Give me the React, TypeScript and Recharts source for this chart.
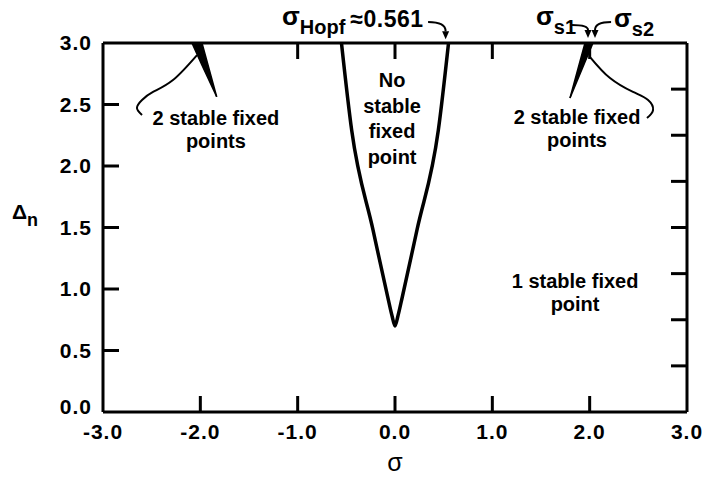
import React from 'react';
import { ComposedChart, Line, Area, XAxis, YAxis, ReferenceDot, ReferenceLine } from 'recharts';

const FONT = "'Liberation Sans', Arial, Helvetica, sans-serif";

// Axis ticks
const xTicks = [-3, -2, -1, 0, 1, 2, 3];
const innerXTicks = [-2, -1, 0, 1, 2];
const yTicks = [0, 0.5, 1, 1.5, 2, 2.5, 3];
const innerYTicks = [0.5, 1, 1.5, 2, 2.5];
// right-hand frame ticks: eighths of the Delta_n range
const rightTickEighths = [1, 2, 3, 4, 5, 6, 7];
const Y_MAX = 3;

// Hopf boundary (sigma, Delta_n)
const hopfSigma = [-0.55, -0.445, -0.226, -0.075, -0.03, 0, 0.03, 0.075, 0.226, 0.445, 0.55];
const hopfDelta = [3.0, 2.29, 1.48, 0.935, 0.78, 0.7, 0.78, 0.935, 1.48, 2.29, 3.0];

// Saddle-node wedges (sigma_s1 .. sigma_s2 region)
const wedgeLeftSigma = [-2.086, -1.983, -1.832];
const wedgeLeftLow = [3.0, 2.82, 2.563];
const wedgeLeftHigh = [3.0, 3.0, 2.563];
const wedgeRightSigma = [1.798, 1.952, 2.034];
const wedgeRightLow = [2.553, 2.845, 3.0];
const wedgeRightHigh = [2.553, 3.0, 3.0];

// Bracket leader curves
const bracketLeftSigma = [-2.034, -2.281, -2.486, -2.599, -2.651, -2.599];
const bracketLeftDelta = [2.902, 2.699, 2.602, 2.537, 2.472, 2.415];
const bracketRightSigma = [2.004, 2.209, 2.445, 2.6, 2.651, 2.589];
const bracketRightDelta = [2.886, 2.715, 2.602, 2.537, 2.455, 2.39];

const zip = (xs: number[], ys: number[]) => xs.map((x, i) => ({ x, y: ys[i] }));
const zipRange = (xs: number[], lo: number[], hi: number[]) => xs.map((x, i) => ({ x, lo: lo[i], hi: hi[i] }));

const hopfData = zip(hopfSigma, hopfDelta);
const wedgeLeftData = zipRange(wedgeLeftSigma, wedgeLeftLow, wedgeLeftHigh);
const wedgeRightData = zipRange(wedgeRightSigma, wedgeRightLow, wedgeRightHigh);
const bracketLeftData = zip(bracketLeftSigma, bracketLeftDelta);
const bracketRightData = zip(bracketRightSigma, bracketRightDelta);

const textStyle = { fontFamily: FONT, fontWeight: 'bold' as const, fill: '#000' };
const TICK_LEN = 16;
const TICK_W = 3;
const TICK_COLOR = '#000';
const BOTTOM_MARGIN = 12;
const LEFT_MARGIN = 11;

const makeTextShape = (lines: string[], lineHeight: number) => (p: any) => (
  <text x={p.cx} y={p.cy} textAnchor="middle" fontSize={20} {...textStyle}>
    {lines.map((l, i) => (
      <tspan key={i} x={p.cx} dy={i === 0 ? 0 : lineHeight}>{l}</tspan>
    ))}
  </text>
);

const sigmaLabelShape = (sub: string, rest: string) => (p: any) => (
  <text x={p.cx} y={p.cy} textAnchor="start" fontSize={26} {...textStyle}>
    <tspan>σ</tspan>
    <tspan fontSize={20} dy={9}>{sub}</tspan>
    {rest ? <tspan fontSize={23} dx={5} dy={-7} letterSpacing={0.5}>{rest}</tspan> : null}
  </text>
);

const arrowShape = (p: any) => {
  const { x1, y1, x2, y2 } = p;
  const cx = x2;
  const cy = y1;
  const ang = Math.atan2(y2 - cy, x2 - cx);
  const L = 8;
  const W = 3.5;
  const bx = x2 - L * Math.cos(ang);
  const by = y2 - L * Math.sin(ang);
  const px = -Math.sin(ang) * W;
  const py = Math.cos(ang) * W;
  return (
    <g>
      <path d={`M${x1},${y1} Q${cx},${cy} ${bx},${by}`} fill="none" stroke="#000" strokeWidth={2} />
      <polygon points={`${x2},${y2} ${bx + px},${by + py} ${bx - px},${by - py}`} fill="#000" />
    </g>
  );
};

const leftTickShape = (p: any) => {
  const x = Math.min(p.x1, p.x2);
  return (
    <g>
      <line x1={x} y1={p.y1} x2={x + TICK_LEN} y2={p.y1} stroke={TICK_COLOR} strokeWidth={TICK_W} />
    </g>
  );
};
const rightTickShape = (p: any) => {
  const x = Math.max(p.x1, p.x2);
  return (
    <g>
      <line x1={x} y1={p.y1} x2={x - TICK_LEN} y2={p.y1} stroke={TICK_COLOR} strokeWidth={TICK_W} />
    </g>
  );
};
const bottomTopTickShape = (p: any) => {
  const yb = Math.max(p.y1, p.y2);
  const yt = Math.min(p.y1, p.y2);
  return (
    <g>
      <line x1={p.x1} y1={yb} x2={p.x1} y2={yb - TICK_LEN} stroke={TICK_COLOR} strokeWidth={TICK_W} />
      <line x1={p.x1} y1={yt} x2={p.x1} y2={yt + TICK_LEN} stroke={TICK_COLOR} strokeWidth={TICK_W} />
    </g>
  );
};

const LeftTick = (p: any) => {
  const v = p.payload.value as number;
  return (
    <text x={p.x} y={p.y + (v === 0 ? -5 : 0)} dy={7} textAnchor="end" fontSize={21} letterSpacing={1} {...textStyle}>
      {v.toFixed(1)}
    </text>
  );
};

const BottomTick = (p: any) => {
  const v = p.payload.value as number;
  return (
    <text x={p.x} y={p.y} dy={15} textAnchor="middle" fontSize={21} letterSpacing={1} {...textStyle}>
      {v.toFixed(1)}
    </text>
  );
};

const axisLine = { stroke: '#000', strokeWidth: 3 };

export default function App() {
  return (
    <div style={{ position: 'absolute', left: 0, top: 0, background: '#fff' }}>
      <ComposedChart width={702} height={477} margin={{ top: 0, right: 0, bottom: 0, left: 0 }}>
        <XAxis
          xAxisId={0}
          dataKey="x"
          type="number"
          domain={[-3, 3]}
          ticks={xTicks}
          orientation="bottom"
          height={65}
          axisLine={axisLine}
          tickLine={false}
          tickSize={0}
          tickMargin={BOTTOM_MARGIN}
          tick={<BottomTick />}
          interval={0}
          label={{
            content: (p: any) => {
              const vb = p.viewBox;
              return (
                <text x={vb.x + vb.width / 2} y={vb.y + vb.height - 6} textAnchor="middle" fontSize={25} {...textStyle} fontWeight="normal">
                  σ
                </text>
              );
            },
          }}
        />
        <XAxis
          xAxisId="top"
          dataKey="x"
          type="number"
          domain={[-3, 3]}
          orientation="top"
          height={43}
          axisLine={axisLine}
          tickLine={false}
          tick={false}
        />
        <YAxis
          yAxisId={0}
          type="number"
          domain={[0, Y_MAX]}
          ticks={yTicks}
          orientation="left"
          width={103}
          axisLine={axisLine}
          tickLine={false}
          tickSize={0}
          tickMargin={LEFT_MARGIN}
          tick={<LeftTick />}
          interval={0}
          label={{
            content: (p: any) => {
              const vb = p.viewBox;
              return (
                <text x={vb.x + 12} y={vb.y + vb.height / 2 - 9} textAnchor="start" fontSize={21} {...textStyle}>
                  <tspan>Δ</tspan>
                  <tspan fontSize={18} dy={7}>n</tspan>
                </text>
              );
            },
          }}
        />
        <YAxis
          yAxisId="right"
          type="number"
          domain={[0, 8]}
          orientation="right"
          width={15}
          axisLine={axisLine}
          tickLine={false}
          tick={false}
        />

        {innerYTicks.map((v) => (
          <ReferenceLine key={`l${v}`} y={v} yAxisId={0} xAxisId={0} ifOverflow="visible" shape={leftTickShape} />
        ))}
        {rightTickEighths.map((k) => (
          <ReferenceLine key={`r${k}`} y={(k / 8) * Y_MAX} yAxisId={0} xAxisId={0} ifOverflow="visible" shape={rightTickShape} />
        ))}
        {innerXTicks.map((v) => (
          <ReferenceLine key={`x${v}`} x={v} yAxisId={0} xAxisId={0} ifOverflow="visible" shape={bottomTopTickShape} />
        ))}

        <Area data={wedgeLeftData} dataKey={(d: any) => [d.lo, d.hi]} type="linear" stroke="#000" strokeWidth={1.5} fill="#000" fillOpacity={1} dot={false} activeDot={false} isAnimationActive={false} />
        <Area data={wedgeRightData} dataKey={(d: any) => [d.lo, d.hi]} type="linear" stroke="#000" strokeWidth={1.5} fill="#000" fillOpacity={1} dot={false} activeDot={false} isAnimationActive={false} />
        <Line data={hopfData} dataKey="y" type="monotone" stroke="#000" strokeWidth={3.5} dot={false} activeDot={false} isAnimationActive={false} />
        <Line data={bracketLeftData} dataKey="y" type="natural" stroke="#000" strokeWidth={2} dot={false} activeDot={false} isAnimationActive={false} />
        <Line data={bracketRightData} dataKey="y" type="natural" stroke="#000" strokeWidth={2} dot={false} activeDot={false} isAnimationActive={false} />

        <ReferenceDot x={-0.03} y={2.64} r={0} ifOverflow="visible" shape={makeTextShape(['No', 'stable', 'fixed', 'point'], 25.5)} />
        <ReferenceDot x={1.85} y={1.01} r={0} ifOverflow="visible" shape={makeTextShape(['1 stable fixed', 'point'], 23)} />
        <ReferenceDot x={-1.84} y={2.33} r={0} ifOverflow="visible" shape={makeTextShape(['2 stable fixed', 'points'], 23)} />
        <ReferenceDot x={1.87} y={2.34} r={0} ifOverflow="visible" shape={makeTextShape(['2 stable fixed', 'points'], 23)} />

        <ReferenceDot x={-1.161} y={3.146} r={0} ifOverflow="visible" shape={sigmaLabelShape('Hopf', '≈0.561')} />
        <ReferenceDot x={1.449} y={3.146} r={0} ifOverflow="visible" shape={sigmaLabelShape('s1', '')} />
        <ReferenceDot x={2.25} y={3.13} r={0} ifOverflow="visible" shape={sigmaLabelShape('s2', '')} />

        <ReferenceLine segment={[{ x: 0.34, y: 3.17 }, { x: 0.52, y: 3.03 }]} ifOverflow="visible" shape={arrowShape} />
        <ReferenceLine segment={[{ x: 1.819, y: 3.146 }, { x: 1.983, y: 3.04 }]} ifOverflow="visible" shape={arrowShape} />
        <ReferenceLine segment={[{ x: 2.22, y: 3.17 }, { x: 2.055, y: 3.04 }]} ifOverflow="visible" shape={arrowShape} />
      </ComposedChart>
    </div>
  );
}
